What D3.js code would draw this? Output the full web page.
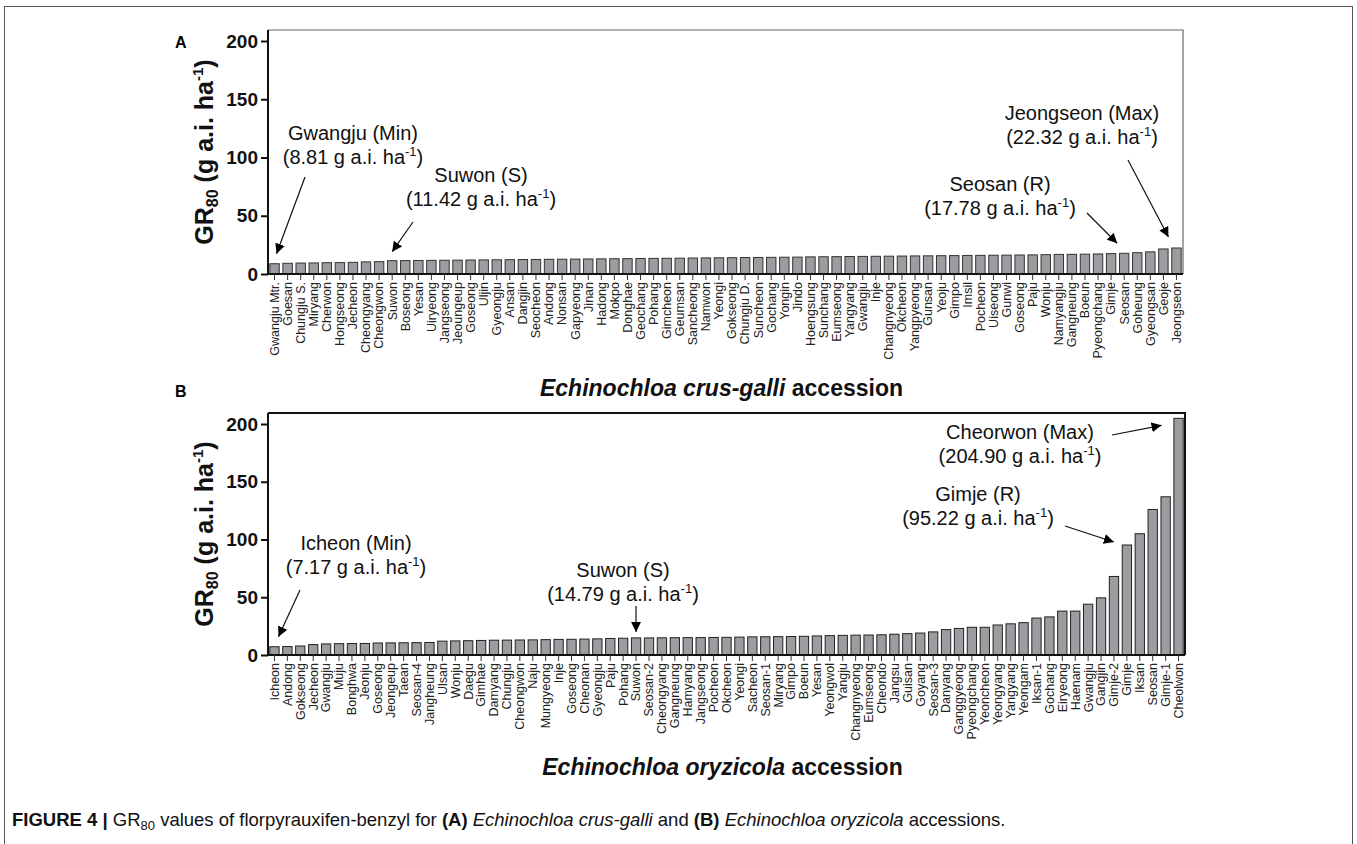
<!DOCTYPE html>
<html>
<head>
<meta charset="utf-8">
<script src="https://cdn.jsdelivr.net/npm/d3@7"></script>
<style>
  body { margin: 0; background: #fff; }
  svg { display: block; font-family: "Liberation Sans", Arial, Helvetica, sans-serif; }
</style>
</head>
<body>
<svg id="chart" width="1357" height="844"></svg>
<script>
// ---------- DATA ----------
const categoriesA = ["Gwangju Mtr.","Goesan","Chungju S.","Miryang","Cherwon","Hongseong","Jecheon","Cheongyang","Cheongwon","Suwon","Boseong","Yesan","Uiryeong","Jangseong","Jeoungeup","Goseong","Uljin","Gyeongju","Ansan","Dangjin","Seocheon","Andong","Nonsan","Gapyeong","Jinan","Hadong","Mokpo","Donghae","Geochang","Pohang","Gimcheon","Geumsan","Sancheong","Namwon","Yeongi","Gokseong","Chungju D.","Suncheon","Gochang","Yongin","Jindo","Hoengsung","Sunchang","Eumseong","Yangyang","Gwangju","Inje","Changnyeong","Okcheon","Yangpyeong","Gunsan","Yeoju","Gimpo","Imsil","Pocheon","Uiseong","Gunwi","Goseong","Paju","Wonju","Namyangju","Gangneung","Boeun","Pyeongchang","Gimje","Seosan","Goheung","Gyeongsan","Geoje","Jeongseon"];
const valuesA = [8.81,9.2,9.4,9.5,9.7,9.8,10.0,10.4,10.6,11.42,11.5,11.6,11.7,11.8,11.9,12.0,12.1,12.2,12.3,12.4,12.5,12.6,12.7,12.8,12.9,13.0,13.1,13.2,13.3,13.4,13.5,13.6,13.7,13.8,13.9,14.0,14.1,14.2,14.3,14.4,14.5,14.7,14.8,14.9,15.0,15.1,15.2,15.3,15.4,15.5,15.6,15.7,15.8,15.9,16.0,16.1,16.2,16.3,16.4,16.6,16.8,16.9,17.0,17.2,17.5,17.78,18.3,19.0,21.5,22.32];

const categoriesB = ["Icheon","Andong","Gokseong","Jecheon","Gwangju","Muju","Bonghwa","Jeonju","Goseong","Jeongeup","Taean","Seosan-4","Jangheung","Ulsan","Wonju","Daegu","Gimhae","Damyang","Chungju","Cheongwon","Naju","Mungyeong","Inje","Goseong","Cheonan","Gyeongju","Paju","Pohang","Suwon","Seosan-2","Cheongyang","Gangneung","Hamyang","Jangseong","Pocheon","Okcheon","Yeongi","Sacheon","Seosan-1","Miryang","Gimpo","Boeun","Yesan","Yeongwol","Yangju","Changnyeong","Eumseong","Cheondo","Jangsu","Guisan","Goyang","Seosan-3","Danyang","Ganggyeong","Pyeongchang","Yeoncheon","Yeongyang","Yangyang","Yeongam","Iksan-1","Gochang","Eiryeong","Haenam","Gwangju","Gangjin","Gimje-2","Gimje","Iksan","Seosan","Gimje-1","Cheolwon"];
const valuesB = [7.17,7.3,7.8,9.0,9.6,9.8,9.9,10.0,10.4,10.5,10.6,10.7,10.8,12.0,12.2,12.4,12.6,12.8,12.9,13.0,13.1,13.3,13.5,13.6,13.8,14.0,14.3,14.5,14.79,14.8,14.9,15.0,15.0,15.1,15.2,15.3,15.5,15.7,15.8,15.9,16.0,16.2,16.5,16.8,17.0,17.2,17.3,17.5,18.0,18.5,19.0,20.0,22.0,23.0,24.0,24.0,26.0,27.0,28.0,32.0,33.0,38.0,38.0,44.0,49.5,68.0,95.22,105.0,126.0,137.0,204.90];

const yTicks = [0, 50, 100, 150, 200];

// ---------- DRAW ----------
const svg = d3.select("#chart");

svg.append("defs").append("marker")
  .attr("id", "arrow").attr("viewBox", "0 0 10 10")
  .attr("refX", 10).attr("refY", 5)
  .attr("markerWidth", 10).attr("markerHeight", 10)
  .attr("markerUnits", "userSpaceOnUse")
  .attr("orient", "auto")
  .append("path").attr("d", "M0,0 L10,5 L0,10 z").attr("fill", "#000");

// outer border
svg.append("rect").attr("x", 4.5).attr("y", 6.5).attr("width", 1348).attr("height", 845)
  .attr("fill", "none").attr("stroke", "#555").attr("stroke-width", 1);

function panel(o) {
  const g = svg.append("g");
  const idx = o.cats.map((d, i) => i);
  const x = d3.scaleBand().domain(idx).range([o.left, o.right]).paddingInner(0.28).paddingOuter(0.14);
  const y = d3.scaleLinear().domain([0, 200]).range([o.y0, o.y200]);

  g.selectAll("rect.bar").data(o.vals).join("rect")
    .attr("class", "bar")
    .attr("x", (d, i) => x(i))
    .attr("width", x.bandwidth())
    .attr("y", d => y(d))
    .attr("height", d => y(0) - y(d))
    .attr("fill", "#9d9da1")
    .attr("stroke", o.barStroke).attr("stroke-width", 1);

  g.append("path")
    .attr("d", `M${o.left},${o.top} H${o.right} V${o.y0}`)
    .attr("fill", "none").attr("stroke", o.frameColor).attr("stroke-width", o.frameWidth);

  const ya = g.append("g").attr("transform", `translate(${o.left},0)`)
    .call(d3.axisLeft(y).tickValues(yTicks).tickSize(7).tickSizeOuter(0).tickPadding(3));
  ya.select(".domain").attr("d", `M0,${o.top}V${o.y0}`).attr("stroke", "#111").attr("stroke-width", 2);
  ya.selectAll(".tick line").attr("stroke", "#111").attr("stroke-width", 2);
  ya.selectAll(".tick text").attr("font-size", 19).attr("font-weight", "bold").attr("fill", "#111")
    .attr("font-family", "Liberation Sans, Arial, sans-serif");

  const xa = g.append("g").attr("transform", `translate(0,${o.y0})`)
    .call(d3.axisBottom(x).tickFormat(i => o.cats[i]).tickSize(6).tickSizeOuter(0));
  xa.select(".domain").attr("d", `M${o.left},0H${o.right}`).attr("stroke", "#111").attr("stroke-width", 2);
  xa.selectAll(".tick line").attr("stroke", "#333").attr("stroke-width", 1);
  xa.selectAll(".tick text")
    .attr("font-size", 12.5).attr("fill", "#222")
    .attr("font-family", "Liberation Sans, Arial, sans-serif")
    .attr("text-anchor", "end")
    .attr("transform", "rotate(-90)")
    .attr("x", -8).attr("y", 0).attr("dy", "0.35em");

  svg.append("text").attr("x", 175).attr("y", o.letterY).text(o.letter)
    .attr("font-size", 16).attr("font-weight", "bold");

  const yt = svg.append("text")
    .attr("transform", `translate(213,${(o.top + o.y0) / 2}) rotate(-90)`)
    .attr("text-anchor", "middle").attr("font-size", 25).attr("font-weight", "bold").attr("fill", "#111");
  yt.append("tspan").text("GR");
  yt.append("tspan").attr("font-size", 16).attr("dy", 5).text("80");
  yt.append("tspan").attr("dy", -5).text(" (g a.i. ha");
  yt.append("tspan").attr("font-size", 15).attr("dy", -10).text("-1");
  yt.append("tspan").attr("dy", 10).text(")");

  const xt = svg.append("text").attr("x", (o.left + o.right) / 2 - 4).attr("y", o.titleY)
    .attr("text-anchor", "middle").attr("font-size", 23).attr("font-weight", "bold").attr("fill", "#111");
  xt.append("tspan").attr("font-style", "italic").text(o.title);
  xt.append("tspan").text(" accession");

  return { x, y };
}

function annot(p, lines, cx, by, i, vals, from, tip) {
  svg.append("text").attr("x", cx).attr("y", by).attr("text-anchor", "middle")
    .attr("font-size", 20).attr("fill", "#111").text(lines[0]);
  const t2 = svg.append("text").attr("x", cx).attr("y", by + 24).attr("text-anchor", "middle")
    .attr("font-size", 20).attr("fill", "#111");
  t2.append("tspan").text(lines[1]);
  t2.append("tspan").attr("font-size", 13).attr("dy", -8).text("-1");
  t2.append("tspan").attr("dy", 8).text(")");
  const tx = p.x(i) + p.x.bandwidth() / 2 + tip[0];
  const ty = p.y(vals[i]) + tip[1];
  svg.append("line").attr("x1", from[0]).attr("y1", from[1]).attr("x2", tx).attr("y2", ty)
    .attr("stroke", "#111").attr("stroke-width", 1.2).attr("marker-end", "url(#arrow)");
}

const pA = panel({
  cats: categoriesA, vals: valuesA, left: 268, right: 1183, top: 30, y0: 274, y200: 41,
  frameColor: "#666", frameWidth: 1.2, letter: "A", letterY: 48,
  title: "Echinochloa crus-galli", titleY: 396, barStroke: "#333"
});
const pB = panel({
  cats: categoriesB, vals: valuesB, left: 268, right: 1185, top: 413, y0: 655, y200: 424,
  frameColor: "#111", frameWidth: 2, letter: "B", letterY: 397,
  title: "Echinochloa oryzicola", titleY: 775, barStroke: "#222"
});

// annotations panel A
annot(pA, ["Gwangju (Min)", "(8.81 g a.i. ha"], 353, 140, 0, valuesA, [305, 177], [2, -10]);
annot(pA, ["Suwon (S)", "(11.42 g a.i. ha"], 481, 182, 9, valuesA, [413, 222], [0, -9]);
annot(pA, ["Seosan (R)", "(17.78 g a.i. ha"], 1000, 191, 65, valuesA, [1087, 213], [-7, -10]);
annot(pA, ["Jeongseon (Max)", "(22.32 g a.i. ha"], 1082, 120, 69, valuesA, [1128, 160], [-8, -11]);

// annotations panel B
annot(pB, ["Icheon (Min)", "(7.17 g a.i. ha"], 356, 550, 0, valuesB, [300, 590], [4, -10]);
annot(pB, ["Suwon (S)", "(14.79 g a.i. ha"], 623, 577, 28, valuesB, [636, 606], [0, -6]);
annot(pB, ["Gimje (R)", "(95.22 g a.i. ha"], 978, 501, 66, valuesB, [1065, 526], [-13, -3]);
annot(pB, ["Cheorwon (Max)", "(204.90 g a.i. ha"], 1020, 439, 70, valuesB, [1112, 435], [-17, 7]);

// caption
const cap = svg.append("text").attr("x", 12).attr("y", 826).attr("font-size", 18.5).attr("fill", "#111");
cap.append("tspan").attr("font-weight", "bold").text("FIGURE 4 | ");
cap.append("tspan").text("GR");
cap.append("tspan").attr("font-size", 13).attr("dy", 4).text("80");
cap.append("tspan").attr("dy", -4).text(" values of florpyrauxifen-benzyl for ");
cap.append("tspan").attr("font-weight", "bold").text("(A) ");
cap.append("tspan").attr("font-style", "italic").text("Echinochloa crus-galli");
cap.append("tspan").text(" and ");
cap.append("tspan").attr("font-weight", "bold").text("(B) ");
cap.append("tspan").attr("font-style", "italic").text("Echinochloa oryzicola");
cap.append("tspan").text(" accessions.");
</script>
</body>
</html>
